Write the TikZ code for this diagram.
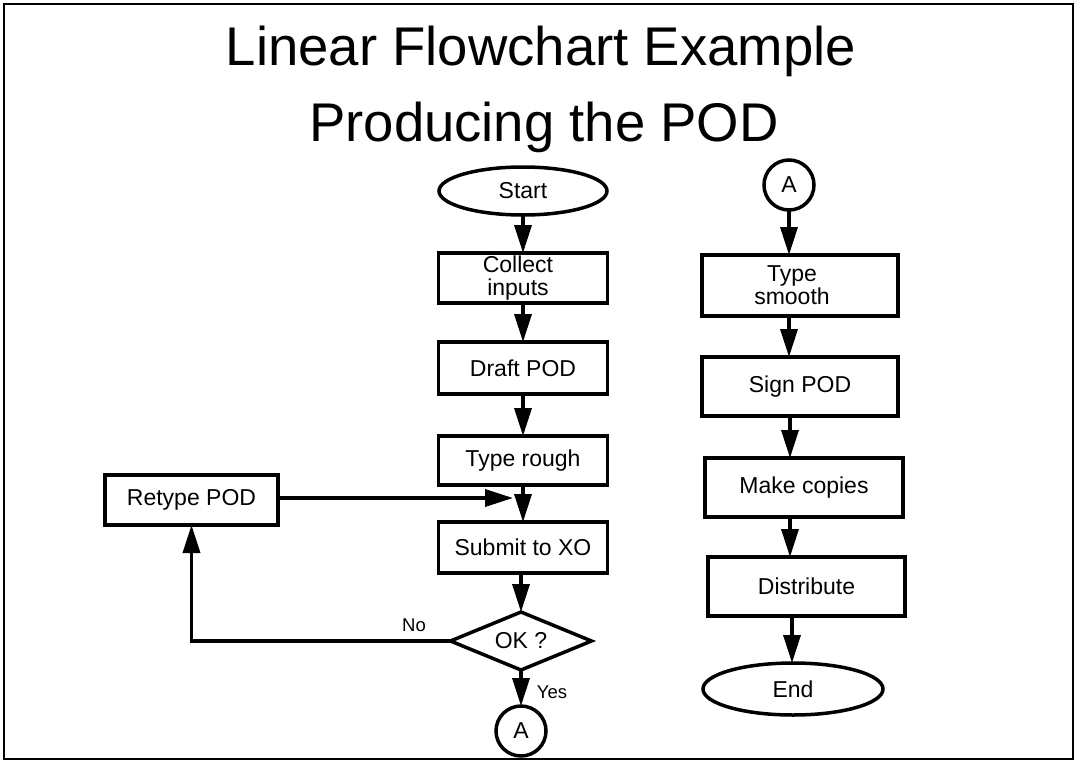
\documentclass[tikz,border=0pt]{standalone}
\usepackage{fontspec}
\setmainfont{Liberation Sans}
\usetikzlibrary{shapes.geometric,arrows.meta}
\begin{document}
\begin{tikzpicture}[x=1pt,y=-1pt,
  every node/.style={inner sep=0pt,outer sep=0pt},
  box/.style={draw,line width=3.5pt,rectangle,font=\fontsize{23}{23}\selectfont,align=center},
  term/.style={draw,line width=3.5pt,ellipse,font=\fontsize{23}{23}\selectfont},
  conn/.style={draw,line width=3.5pt,circle,minimum size=50pt,font=\fontsize{23}{23}\selectfont},
  decision/.style={draw,line width=3.5pt,diamond,font=\fontsize{23}{23}\selectfont},
  lbl/.style={font=\fontsize{18.5}{20}\selectfont},
  arr/.style={line width=3.5pt,-{Triangle[length=28pt,width=17pt]}},
  ttl/.style={font=\fontsize{54.5}{56}\selectfont}]
\useasboundingbox (0,0) rectangle (1077,763);
\draw[line width=2pt] (4,4) rectangle (1073,759);
\node[ttl,anchor=base] (t1) at (541,65) {Linear Flowchart Example};
\node[ttl,anchor=base] (t2) at (544,141) {Producing the POD};
% left column
\node[term,minimum width=168pt,minimum height=48pt] (start) at (523,191) {Start};
\node[box,minimum width=169pt,minimum height=50pt] (collect) at (523,278) {Collect\hspace*{10pt}\\inputs\hspace*{10pt}};
\node[box,minimum width=169pt,minimum height=52pt] (draft) at (523,368) {Draft POD};
\node[box,minimum width=169pt,minimum height=49pt] (rough) at (523,460.5) {Type rough};
\node[box,minimum width=169pt,minimum height=51pt] (submit) at (523,547.5) {Submit to XO};
\node[decision,minimum width=141pt,minimum height=58pt,aspect=2.4] (ok) at (521,641) {OK ?};
\node[conn] (a1) at (521,731) {A};
\node[box,minimum width=173pt,minimum height=50pt] (retype) at (191.5,500) {Retype POD};
\coordinate (join) at (513,498);
\node[lbl] (no) at (414,625) {No};
\node[lbl] (yes) at (552,692) {Yes};
% right column
\node[conn] (a2) at (789,185) {A};
\node[box,minimum width=196pt,minimum height=61pt] (smooth) at (800,285.5) {Type\hspace*{16pt}\\smooth\hspace*{16pt}};
\node[box,minimum width=196pt,minimum height=59pt] (sign) at (800,386.5) {Sign POD};
\node[box,minimum width=198pt,minimum height=59pt] (copies) at (804,487.5) {Make copies};
\node[box,minimum width=197pt,minimum height=59pt] (distrib) at (806.5,586.5) {Distribute};
\node[term,minimum width=180pt,minimum height=52pt] (end) at (793,689) {End};
% connectors left
\draw[arr] (start) -- (collect);
\draw[arr] (collect) -- (draft);
\draw[arr] (draft) -- (rough);
\draw[arr] (rough) -- (submit);
\draw[arr] (submit.south -| ok.north) -- (ok.north);
\draw[arr] (ok) -- (a1);
\draw[arr] (retype.east |- join) -- (join);
\draw[arr] (ok.west) -- (ok.west -| retype.south) -- (retype.south);
% connectors right
\draw[arr] (a2) -- (a2 |- smooth.north);
\draw[arr] (a2 |- smooth.south) -- (a2 |- sign.north);
\draw[arr] ([xshift=1pt]a2 |- sign.south) -- ([xshift=1pt]a2 |- copies.north);
\draw[arr] ([xshift=1pt]a2 |- copies.south) -- ([xshift=1pt]a2 |- distrib.north);
\draw[arr] ([xshift=3pt]a2 |- distrib.south) -- ([xshift=3pt]a2 |- end.north);
\end{tikzpicture}
\end{document}
